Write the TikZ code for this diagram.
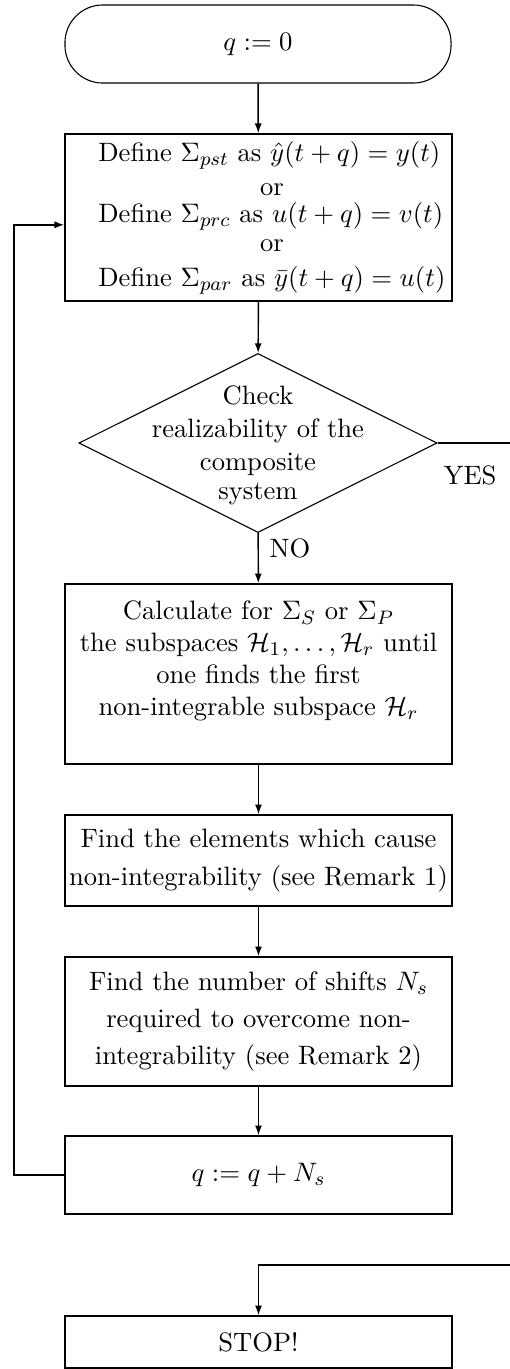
\documentclass[tikz,border=0pt]{standalone}
\usepackage{amsmath,amssymb}
\usetikzlibrary{arrows.meta,shapes.geometric,shapes.misc}

\begin{document}
\begin{tikzpicture}[x=0.41pt,y=-0.41pt,font=\fontsize{10.9pt}{13pt}\selectfont]
\tikzset{
  flowbox/.style={rectangle,draw,line width=0.6pt,minimum width=158.7pt,inner sep=1pt,align=center},
  terminal/.style={rectangle,draw,line width=0.45pt,rounded corners=15.5pt,minimum width=158.3pt,minimum height=32pt,align=center},
  decision/.style={diamond,draw,line width=0.45pt,minimum width=146.8pt,minimum height=73.4pt,inner sep=0pt},
  directed/.style={-{Latex[length=4pt,width=2.9pt]},line width=0.6pt},
  undirected/.style={line width=0.6pt}
}
\useasboundingbox (0,0) rectangle (510,1369);
\node[terminal] (n_start) at (258,44) {$q:=0$};
\node[flowbox,minimum height=68.5pt] (n_define) at (258.5,217.5) {\hspace*{11pt}\begin{tabular}{@{}l@{}}
  Define $\Sigma_{pst}$ as $\hat{y}(t+q)=y(t)$\\[1pt]
  \multicolumn{1}{@{}c@{}}{or}\\[-2pt]
  Define $\Sigma_{prc}$ as $u(t+q)=v(t)$\\[-1pt]
  \multicolumn{1}{@{}c@{}}{or}\\[1.3pt]
  Define $\Sigma_{par}$ as $\bar{y}(t+q)=u(t)$
\end{tabular}};
\node[decision] (n_check) at (258,443) {\makebox[0pt]{\smash{\raisebox{-4pt}{\begin{tabular}{c}Check\\[0.5pt] realizability of the\\[0.5pt] composite\\[-1pt] system\end{tabular}}}}};
\node[flowbox,minimum height=73.8pt,text depth=13pt] (n_calc) at (258.5,674) {Calculate for $\Sigma_S$ or $\Sigma_P$\\ the subspaces $\mathcal{H}_1,\dots,\mathcal{H}_r$ until\\ one finds the first\\ non-integrable subspace $\mathcal{H}_r$};
\node[flowbox,minimum height=37.3pt] (n_elem) at (258.5,860.5) {Find the elements which cause\\[2.5pt] non-integrability (see Remark 1)};
\node[flowbox,minimum height=52.9pt] (n_shift) at (258.5,1021.5) {Find the number of shifts $N_s$\\[2pt] required to overcome non-\\[2pt] integrability (see Remark 2)};
\node[flowbox,minimum height=32pt] (n_update) at (258.5,1175) {$q:=q+N_s$};
\node[flowbox,minimum height=21.3pt] (n_stop) at (258.5,1342) {STOP!};
\node (l_yes) at (470,475) {YES};
\node (l_no) at (290,548) {NO};
\coordinate (c_yes) at (510,443);
\coordinate (c_ret) at (510,1265);
\coordinate (c_loop) at (14,1175);
\draw[directed] (n_start) -- (n_define);
\draw[directed] (n_define) -- (n_check);
\draw[undirected] (n_check.east) -- (c_yes);
\draw[directed] (n_check) -- (n_calc);
\draw[directed] (n_calc) -- (n_elem);
\draw[directed] (n_elem) -- (n_shift);
\draw[directed] (n_shift) -- (n_update);
\draw[directed] (n_update.west) -- (c_loop) |- ([yshift=-3pt]n_define.west);
\draw[directed] (c_ret) -| (n_stop.north);
\end{tikzpicture}
\end{document}
